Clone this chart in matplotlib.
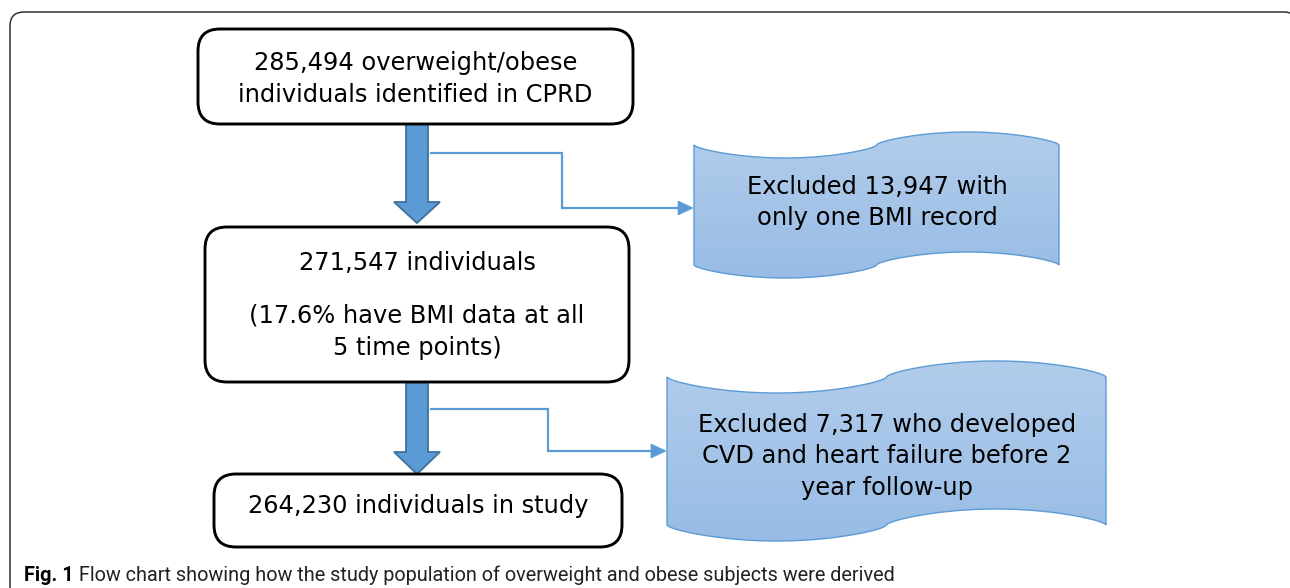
import matplotlib.pyplot as plt
import numpy as np
from matplotlib.patches import FancyBboxPatch, Polygon, PathPatch
from matplotlib.path import Path

# text of the flow chart
box_texts = [
    ["285,494 overweight/obese", "individuals identified in CPRD"],
    ["271,547 individuals", "", "(17.6% have BMI data at all", "5 time points)"],
    ["264,230 individuals in study"],
]
excl_texts = [
    ["Excluded 13,947 with", "only one BMI record"],
    ["Excluded 7,317 who developed", "CVD and heart failure before 2", "year follow-up"],
]
caption_bold = "Fig. 1"
caption_text = " Flow chart showing how the study population of overweight and obese subjects were derived"

W, H = 1290, 588
fig = plt.figure(figsize=(W / 100, H / 100), dpi=100)
ax = fig.add_axes([0, 0, 1, 1])
ax.set_xlim(0, W)
ax.set_ylim(H, 0)
ax.axis('off')

blue = '#5B9BD5'
dark_blue = '#41719C'
fs = 17.4

# outer frame (open at the bottom, right side just off the picture)
frame = FancyBboxPatch((10, 12), 1288, 640, boxstyle='round,pad=0,rounding_size=14',
                       fc='none', ec='#333333', lw=1.1)
ax.add_patch(frame)

# rounded boxes: (left, top, right, bottom), baselines of the lines
boxes = [(198, 29, 633, 124), (205, 227, 629, 382), (214, 474, 622, 547)]
baselines = [[70, 102], [270, 0, 323, 355], [513]]
for (l, t, r, b), lines, bl in zip(boxes, box_texts, baselines):
    p = FancyBboxPatch((l, t), r - l, b - t, boxstyle='round,pad=0,rounding_size=22',
                       fc='white', ec='black', lw=2.1, zorder=3)
    ax.add_patch(p)
    for s, y in zip(lines, bl):
        if s:
            ax.text((l + r) / 2, y, s, ha='center', va='baseline', fontsize=fs,
                    family='DejaVu Sans', zorder=4)

# thick block arrows between boxes
def block_arrow(xc, y0, y_head, y_tip):
    sw, hw = 11, 23
    pts = [(xc - sw, y0), (xc + sw, y0), (xc + sw, y_head), (xc + hw, y_head),
           (xc, y_tip), (xc - hw, y_head), (xc - sw, y_head)]
    ax.add_patch(Polygon(pts, closed=True, fc=blue, ec=dark_blue, lw=1.3, zorder=2))

block_arrow(417, 124, 202, 223)
block_arrow(417, 382, 452, 474)

# elbow connectors to exclusion shapes
def connector(x0, y0, xm, y1, x1):
    ax.plot([x0, xm, xm, x1 - 12], [y0, y0, y1, y1], color=blue, lw=1.6, zorder=2,
            solid_joinstyle='miter')
    ax.add_patch(Polygon([(x1, y1), (x1 - 15, y1 - 7), (x1 - 15, y1 + 7)], closed=True,
                         fc=blue, ec=blue, lw=0.5, zorder=2))

connector(431, 153, 562, 208, 693)
connector(431, 409, 548, 451, 666)

# wave ("punched tape") edge: sag on the left half, bulge on the right half
def wave_edge(x, l, r, ymid, amp):
    s = np.sin(2 * np.pi * (x - l) / (r - l))
    return ymid + amp * np.sign(s) * np.abs(s) ** 0.65

def wave_shape(l, r, ytop, ybot, amp):
    x = np.linspace(l, r, 400)
    top = wave_edge(x, l, r, ytop, amp)
    bot = wave_edge(x, l, r, ybot, amp)
    verts = list(zip(x, top)) + list(zip(x[::-1], bot[::-1]))
    path = Path(verts + [verts[0]], closed=True)
    patch = PathPatch(path, fc='none', ec=blue, lw=1.0, zorder=3)
    ax.add_patch(patch)
    grad = np.linspace(0, 1, 256).reshape(-1, 1)
    c0 = np.array([178, 205, 235]) / 255
    c1 = np.array([152, 188, 229]) / 255
    img = c0 + (c1 - c0) * grad[:, :, None]
    im = ax.imshow(img, extent=(l, r, ybot + amp, ytop - amp), aspect='auto',
                   zorder=2, interpolation='bilinear')
    im.set_clip_path(patch)

waves = [(694, 1059, 145, 265, 13), (667, 1106, 377, 525, 16)]
wave_baselines = [[194, 225], [432, 463, 495]]
wave_cx = [877, 887]
for (l, r, yt, yb, a), lines, bl, cx in zip(waves, excl_texts, wave_baselines, wave_cx):
    wave_shape(l, r, yt, yb, a)
    for s, y in zip(lines, bl):
        ax.text(cx, y, s, ha='center', va='baseline', fontsize=fs,
                family='DejaVu Sans', zorder=4)

# caption, fitted to span the same width as the original
cap_font = ['DejaVu Sans Condensed', 'Liberation Sans Narrow', 'Roboto', 'DejaVu Sans']
cap_fs = 13.5
x0, x_right = 24, 897
renderer = fig.canvas.get_renderer()
for _ in range(3):
    t1 = ax.text(x0, 581, caption_bold, ha='left', va='baseline', fontsize=cap_fs,
                 fontweight='bold', family=cap_font)
    t1_end = t1.get_window_extent(renderer).x1
    t2 = ax.text(t1_end, H - 581, caption_text, ha='left', va='baseline', fontsize=cap_fs,
                 family=cap_font, transform=None, color='#222222')
    total = t2.get_window_extent(renderer).x1 - x0
    if abs(total - (x_right - x0)) < 3:
        break
    cap_fs *= (x_right - x0) / total
    t1.remove()
    t2.remove()

fig.savefig('out.png', dpi=100)
